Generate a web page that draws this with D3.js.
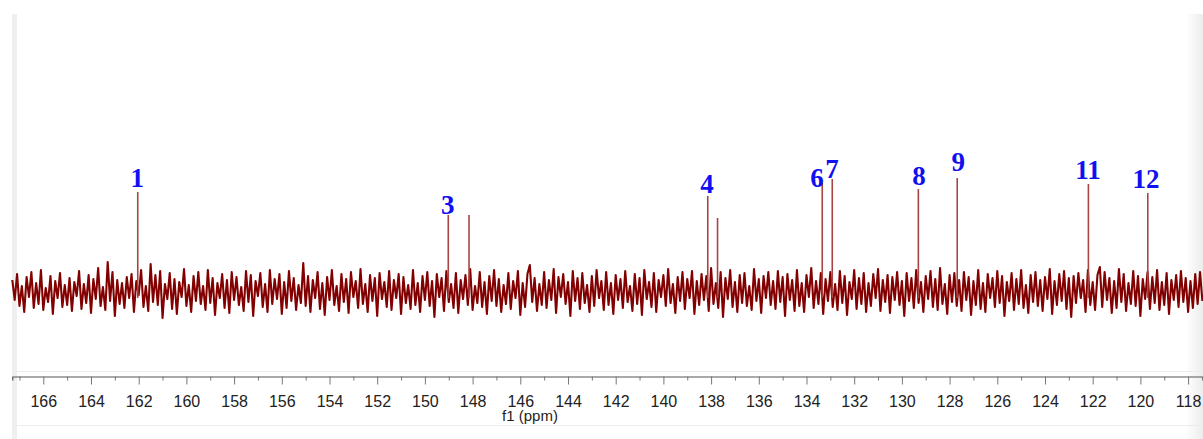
<!DOCTYPE html>
<html>
<head>
<meta charset="utf-8">
<script src="https://cdn.jsdelivr.net/npm/d3@7"></script>
<style>
  body { margin: 0; background: #fff; }
  svg { display: block; }
</style>
</head>
<body>
<div class="chart"></div>
<script>
var svgWidth = 1203;
var svgHeight = 439;

// spectrum: first point / spacing (ppm), then the noise
var noiseStart = 167.3;
var noiseStep = 0.1;
var noise = [
  12,-8,18,-14,6,-20,15,-5,20,-16,9,-12,22,-18,4,-10,16,-22,11,-6,
  19,-15,7,-13,14,-19,10,-4,21,-17,8,-11,17,-21,13,-7,24,-14,5,-18,
  30,-9,20,-24,12,-12,9,-16,15,-6,18,-20,11,-3,22,-15,6,-19,28,-10,
  17,-13,21,-26,8,-7,19,-17,13,-22,10,-5,23,-14,7,-20,16,-9,20,-12,
  6,-18,22,-11,14,-23,9,-6,18,-16,12,-21,20,-8,15,-13,5,-19,21,-10,
  17,-24,11,-4,19,-15,8,-20,22,-12,13,-7,18,-22,10,-16,21,-9,14,-18,
  7,-11,29,-14,16,-20,12,-6,20,-17,9,-23,15,-8,22,-13,6,-19,18,-10,
  13,-21,20,-5,11,-16,23,-12,8,-20,17,-9,14,-24,19,-7,10,-15,21,-18,
  12,-6,18,-22,15,-11,7,-17,22,-13,9,-20,16,-8,20,-14,11,-25,18,-5,
  14,-19,21,-10,8,-16,19,-21,12,-7,17,-13,23,-18,6,-11,20,-15,10,-22,
  16,-9,22,-14,13,-20,7,-12,19,-17,11,-6,21,-23,9,-15,18,27,-10,14,
  -19,8,-13,20,-16,12,-8,23,-21,15,-5,18,-12,10,-24,21,-9,14,-17,19,
  -11,7,-20,16,-14,22,-6,11,-18,20,-13,9,-22,17,-8,13,-16,21,-10,6,
  -19,18,-12,14,-23,22,-7,10,-15,19,-20,12,-5,17,-14,23,-11,8,-21,15,
  -9,20,-17,13,-6,21,-22,11,-13,18,-8,16,-19,24,-12,9,-16,20,-25,14,
  -7,22,-15,10,-20,17,-11,19,-14,6,-18,23,-9,13,-21,16,-6,20,-13,11,
  -17,21,-10,15,-24,18,-8,12,-19,22,-14,9,-20,17,-5,24,-16,11,-12,19,
  -22,13,-9,20,-15,8,-18,21,-11,16,-23,10,-7,22,-17,14,-12,19,-20,9,
  -14,18,-6,23,-19,12,-10,17,-21,15,-8,20,-13,11,-24,19,-9,14,-16,22,
  -11,10,-20,16,-7,21,-15,13,-18,24,-12,8,-22,17,-10,19,-14,12,-19,20,
  -8,15,-23,11,-13,22,-17,9,-20,18,-6,14,-15,21,-11,16,-24,10,-9,19,
  -18,13,-12,22,-16,7,-21,17,-10,20,-14,12,-19,15,-7,23,-22,11,-13,18,
  -9,21,-17,14,-25,16,-11,19,-6,12,-20,22,-13,10,-18,17,25,-15,20,-8,
  14,-21,11,-16,23,-10,18,-19,9,-12,21,-14,16,-24,13,-7,20,-17,15,-11,
  22,-18,10,-13,19,-22,12,-8,17,-15,21,-10,14,-20,11,-16,18,-12,20,-9
];

// peaks
var peakPpm = [162.04, 149.02, 148.15, 138.14, 137.73, 133.34, 132.92, 129.31, 127.68, 122.18, 119.69];
var peakHeight = [100, 77, 77, 96, 74, 109, 113, 103, 114, 108, 99];

// peak numbers
var labelText = ["1", "3", "4", "6", "7", "8", "9", "11", "12"];
var labelPpm = [162.06, 149.04, 138.17, 133.56, 132.93, 129.28, 127.64, 122.2, 119.77];
var labelLevel = [105, 78, 99, 105, 114, 107, 121, 113, 104];

var majorTicks = [166, 164, 162, 160, 158, 156, 154, 152, 150, 148, 146, 144, 142, 140,
  138, 136, 134, 132, 130, 128, 126, 124, 122, 120, 118];
var minorTicks = [167, 165, 163, 161, 159, 157, 155, 153, 151, 149, 147, 145, 143, 141, 139,
  137, 135, 133, 131, 129, 127, 125, 123, 121, 119];

var noiseEnd = noiseStart - noiseStep * (noise.length - 1);

var x = d3.scaleLinear().domain([noiseStart, noiseEnd]).range([12.3, 1202.4]);
var y = d3.scaleLinear().domain([-80, 278]).range([372, 14]);

var svg = d3.select(".chart")
  .append("svg")
  .attr("width", svgWidth)
  .attr("height", svgHeight);

// window chrome
var defs = svg.append("defs");
var grad = defs.append("linearGradient").attr("id", "rightFade");
grad.append("stop").attr("offset", "0%").attr("stop-color", "#fff");
grad.append("stop").attr("offset", "100%").attr("stop-color", "#ececec");

svg.append("rect").attr("x", 1186).attr("y", 14).attr("width", 17).attr("height", 425)
  .attr("fill", "url(#rightFade)");
svg.append("rect").attr("x", 12).attr("y", 14).attr("width", 5).attr("height", 425)
  .attr("fill", "#efefef");
svg.append("line").attr("x1", 12).attr("x2", 1203).attr("y1", 371.5).attr("y2", 371.5)
  .attr("stroke", "#ececec");
svg.append("line").attr("x1", 12).attr("x2", 1203).attr("y1", 425.5).attr("y2", 425.5)
  .attr("stroke", "#ececec");

// spectrum trace
var line = d3.line()
  .x(function(d, i) { return x(noiseStart - i * noiseStep); })
  .y(function(d) { return y(d); });

svg.append("path")
  .datum(noise)
  .attr("d", line)
  .attr("fill", "none")
  .attr("stroke", "#820000")
  .attr("stroke-width", 2.1)
  .attr("stroke-linejoin", "round");

svg.selectAll(".peak")
  .data(peakPpm)
  .enter().append("line")
  .attr("class", "peak")
  .attr("x1", function(d) { return x(d); })
  .attr("x2", function(d) { return x(d); })
  .attr("y1", y(-6))
  .attr("y2", function(d, i) { return y(peakHeight[i]); })
  .attr("stroke", "#a84444")
  .attr("stroke-width", 1.6);

svg.selectAll(".num")
  .data(labelText)
  .enter().append("text")
  .attr("class", "num")
  .attr("x", function(d, i) { return x(labelPpm[i]); })
  .attr("y", function(d, i) { return y(labelLevel[i]); })
  .attr("text-anchor", "middle")
  .attr("font-family", "'Liberation Serif', 'Times New Roman', serif")
  .attr("font-weight", "bold")
  .attr("font-size", 27)
  .attr("fill", "#1010f0")
  .text(function(d) { return d; });

// axis
var axisY = 376.5;
var xAxis = d3.axisBottom(x)
  .tickValues(majorTicks)
  .tickSize(8)
  .tickSizeOuter(4)
  .tickPadding(11)
  .tickFormat(d3.format("d"));

var minorAxis = d3.axisBottom(x)
  .tickValues(minorTicks)
  .tickSize(4)
  .tickSizeOuter(0)
  .tickFormat("");

var ax = svg.append("g")
  .attr("transform", `translate(0, ${axisY})`)
  .call(xAxis);
svg.append("g")
  .attr("transform", `translate(0, ${axisY})`)
  .call(minorAxis)
  .select(".domain").remove();

ax.select(".domain").attr("stroke", "#555").attr("stroke-width", 1.2);
ax.selectAll(".tick text")
  .attr("fill", "#222")
  .attr("font-family", "'Liberation Sans', Arial, sans-serif")
  .attr("font-size", 16);
svg.selectAll(".tick line").attr("stroke", "#777");

svg.append("text")
  .attr("x", 530)
  .attr("y", 421)
  .attr("text-anchor", "middle")
  .attr("font-family", "'Liberation Sans', Arial, sans-serif")
  .attr("font-size", 15)
  .attr("fill", "#222")
  .text("f1 (ppm)");
</script>
</body>
</html>
